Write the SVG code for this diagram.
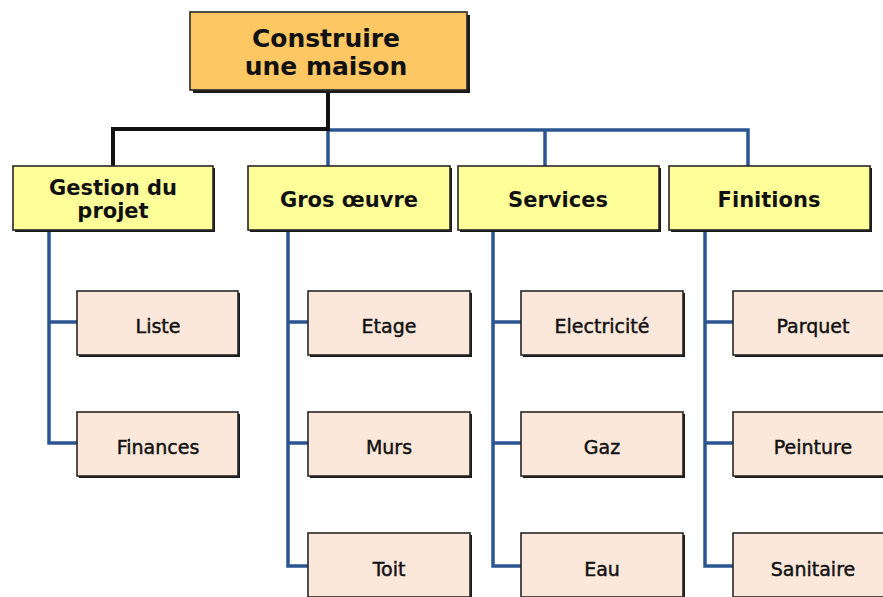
<svg xmlns="http://www.w3.org/2000/svg" width="883" height="597" viewBox="0 0 883 597">
  <defs>
    <style>
      .shadow { fill: #1a1a1a; }
      .box { stroke: #262626; stroke-width: 1.6; }
      .root { fill: #FDC863; }
      .lvl2 { fill: #FFFF99; }
      .lvl3 { fill: #FCE8DA; }
      .t1 { font-family: "DejaVu Sans", Verdana, sans-serif; font-weight: bold; font-size: 25px; fill: #111; text-anchor: middle; }
      .t2 { font-family: "DejaVu Sans", Verdana, sans-serif; font-weight: bold; font-size: 21px; fill: #111; text-anchor: middle; }
      .t3 { font-family: "DejaVu Sans", Verdana, sans-serif; font-size: 19px; fill: #111; stroke: #111; stroke-width: 0.45; text-anchor: middle; }
      .link { fill: none; stroke: #2B5592; stroke-width: 3.5; stroke-linejoin: miter; }
      .link-dark { fill: none; stroke: #111; stroke-width: 4; stroke-linejoin: miter; }
    </style>
  </defs>

  <rect width="883" height="597" fill="#ffffff"/>

  <!-- connectors -->
  <g id="connectors">
    <!-- root to level 2 -->
    <path class="link" d="M328 130 H748 V166"/>
    <path class="link" d="M328 130 V166"/>
    <path class="link" d="M545 130 V166"/>
    <path class="link-dark" d="M328 90 V129 H113 V166"/>
    <!-- Gestion du projet -->
    <path class="link" d="M49 231 V443 H77"/>
    <path class="link" d="M49 322 H77"/>
    <!-- Gros oeuvre -->
    <path class="link" d="M288 231 V566 H308"/>
    <path class="link" d="M288 322 H308"/>
    <path class="link" d="M288 443 H308"/>
    <!-- Services -->
    <path class="link" d="M493 231 V566 H521"/>
    <path class="link" d="M493 322 H521"/>
    <path class="link" d="M493 443 H521"/>
    <!-- Finitions -->
    <path class="link" d="M705 231 V566 H733"/>
    <path class="link" d="M705 322 H733"/>
    <path class="link" d="M705 443 H733"/>
  </g>

  <!-- root -->
  <g id="root">
    <rect class="shadow" x="193" y="15" width="277" height="78"/>
    <rect class="box root" x="190" y="12" width="277" height="78"/>
    <text class="t1" x="326" y="47">Construire</text>
    <text class="t1" x="326" y="75">une maison</text>
  </g>

  <!-- level 2 -->
  <g id="gestion">
    <rect class="shadow" x="15" y="168" width="200" height="64"/>
    <rect class="box lvl2" x="13" y="166" width="200" height="64"/>
    <text class="t2" x="113" y="195">Gestion du</text>
    <text class="t2" x="113" y="218">projet</text>
  </g>
  <g id="gros-oeuvre">
    <rect class="shadow" x="250" y="168" width="202" height="64"/>
    <rect class="box lvl2" x="248" y="166" width="202" height="64"/>
    <text class="t2" x="349" y="207">Gros œuvre</text>
  </g>
  <g id="services">
    <rect class="shadow" x="460" y="168" width="201" height="64"/>
    <rect class="box lvl2" x="458" y="166" width="201" height="64"/>
    <text class="t2" x="558" y="207">Services</text>
  </g>
  <g id="finitions">
    <rect class="shadow" x="671" y="168" width="201" height="64"/>
    <rect class="box lvl2" x="669" y="166" width="201" height="64"/>
    <text class="t2" x="769" y="207">Finitions</text>
  </g>

  <!-- level 3: Gestion du projet -->
  <g id="liste">
    <rect class="shadow" x="79" y="293" width="161" height="64"/>
    <rect class="box lvl3" x="77" y="291" width="161" height="64"/>
    <text class="t3" x="158" y="333">Liste</text>
  </g>
  <g id="finances">
    <rect class="shadow" x="79" y="414" width="161" height="64"/>
    <rect class="box lvl3" x="77" y="412" width="161" height="64"/>
    <text class="t3" x="158" y="454">Finances</text>
  </g>

  <!-- level 3: Gros oeuvre -->
  <g id="etage">
    <rect class="shadow" x="310" y="293" width="162" height="64"/>
    <rect class="box lvl3" x="308" y="291" width="162" height="64"/>
    <text class="t3" x="389" y="333">Etage</text>
  </g>
  <g id="murs">
    <rect class="shadow" x="310" y="414" width="162" height="64"/>
    <rect class="box lvl3" x="308" y="412" width="162" height="64"/>
    <text class="t3" x="389" y="454">Murs</text>
  </g>
  <g id="toit">
    <rect class="shadow" x="310" y="535" width="162" height="64"/>
    <rect class="box lvl3" x="308" y="533" width="162" height="64"/>
    <text class="t3" x="389" y="576">Toit</text>
  </g>

  <!-- level 3: Services -->
  <g id="electricite">
    <rect class="shadow" x="523" y="293" width="162" height="64"/>
    <rect class="box lvl3" x="521" y="291" width="162" height="64"/>
    <text class="t3" x="602" y="333">Electricité</text>
  </g>
  <g id="gaz">
    <rect class="shadow" x="523" y="414" width="162" height="64"/>
    <rect class="box lvl3" x="521" y="412" width="162" height="64"/>
    <text class="t3" x="602" y="454">Gaz</text>
  </g>
  <g id="eau">
    <rect class="shadow" x="523" y="535" width="162" height="64"/>
    <rect class="box lvl3" x="521" y="533" width="162" height="64"/>
    <text class="t3" x="602" y="576">Eau</text>
  </g>

  <!-- level 3: Finitions -->
  <g id="parquet">
    <rect class="shadow" x="735" y="293" width="162" height="64"/>
    <rect class="box lvl3" x="733" y="291" width="162" height="64"/>
    <text class="t3" x="813" y="333">Parquet</text>
  </g>
  <g id="peinture">
    <rect class="shadow" x="735" y="414" width="162" height="64"/>
    <rect class="box lvl3" x="733" y="412" width="162" height="64"/>
    <text class="t3" x="813" y="454">Peinture</text>
  </g>
  <g id="sanitaire">
    <rect class="shadow" x="735" y="535" width="162" height="64"/>
    <rect class="box lvl3" x="733" y="533" width="162" height="64"/>
    <text class="t3" x="813" y="576">Sanitaire</text>
  </g>
</svg>
